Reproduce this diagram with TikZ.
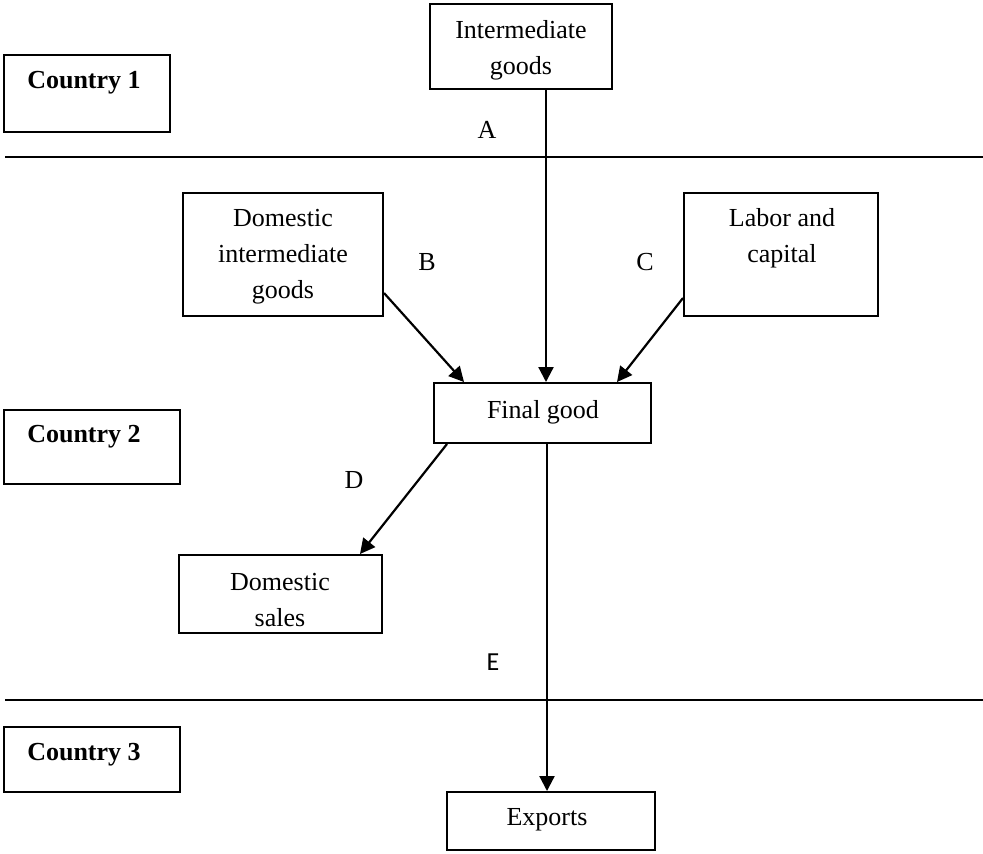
\documentclass[tikz,border=0pt]{standalone}
\usepackage{fontspec}
\setmainfont{Liberation Serif}
\newfontfamily\labelsans{Carlito}
\usetikzlibrary{arrows.meta,fit}
\begin{document}
\begin{tikzpicture}[x=0.5pt,y=-0.5pt,
  frame/.style={draw, line width=1pt, inner sep=0pt},
  txt/.style={font=\fontsize{13}{18}\selectfont, align=center, inner sep=0pt},
  boldtxt/.style={font=\fontsize{13}{18}\selectfont\bfseries, inner sep=0pt},
  flow/.style={line width=1.1pt, -{Triangle[length=7.5pt,width=7.5pt]}},
  sep/.style={line width=0.9pt}]
\useasboundingbox (0,0) rectangle (983,853);

% country boundaries
\coordinate (s1a) at (5,157);  \coordinate (s1b) at (983,157);
\coordinate (s2a) at (5,700);  \coordinate (s2b) at (983,700);
\draw[sep] (s1a) -- (s1b);
\draw[sep] (s2a) -- (s2b);

% country tags
\node[frame, fit={(4,55) (170,132)}] (c1) {};
\node[boldtxt] (c1t) at (84,83) {Country 1};
\node[frame, fit={(4,410) (180,484)}] (c2) {};
\node[boldtxt] (c2t) at (84,437) {Country 2};
\node[frame, fit={(4,727) (180,792)}] (c3) {};
\node[boldtxt] (c3t) at (84,755) {Country 3};

% boxes
\node[frame, fit={(430,4) (612,89)}] (ig) {};
\node[txt] (igt) at (521,50) {Intermediate\\goods};
\node[frame, fit={(183,193) (383,316)}] (dig) {};
\node[txt] (digt) at (283,257) {Domestic\\intermediate\\goods};
\node[frame, fit={(684,193) (878,316)}] (lc) {};
\node[txt] (lct) at (782,238) {Labor and\\capital};
\node[frame, fit={(434,383) (651,443)}] (fg) {};
\node[txt] (fgt) at (543,412) {Final good};
\node[frame, fit={(179,555) (382,633)}] (ds) {};
\node[txt] (dst) at (280,600) {Domestic\\sales};
\node[frame, fit={(447,792) (655,850)}] (ex) {};
\node[txt] (ext) at (547,820) {Exports};

% flow labels
\node[txt] (la) at (487,130) {A};
\node[txt] (lb) at (427,262) {B};
\node[txt] (lc2) at (645,262) {C};
\node[txt] (ld) at (354,480) {D};
\node[txt, font=\fontsize{13}{18}\labelsans] (le) at (493,662) {E};

% connectors
\coordinate (xa) at (546,0);
\coordinate (xe) at (547,0);
\coordinate (yb) at (0,293);
\coordinate (yc) at (0,298);
\coordinate (xbt) at (464,0);
\coordinate (xct) at (617,0);
\coordinate (xds) at (447,0);
\coordinate (xdt) at (360,0);
\draw[flow] (ig.south -| xa) -- (fg.north -| xa);
\draw[flow] (dig.east |- yb) -- (fg.north -| xbt);
\draw[flow] (lc.west |- yc) -- (fg.north -| xct);
\draw[flow] (fg.south -| xds) -- (ds.north -| xdt);
\draw[flow] (fg.south -| xe) -- (ex.north -| xe);
\end{tikzpicture}
\end{document}
